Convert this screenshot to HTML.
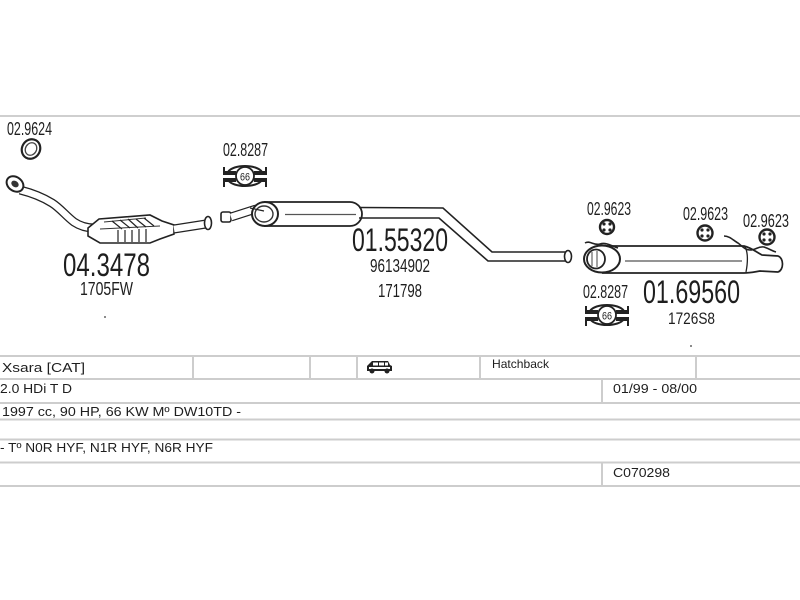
<!DOCTYPE html>
<html><head><meta charset="utf-8"><style>
html,body{margin:0;padding:0;background:#fff;}
svg{display:block;}
text{font-family:"Liberation Sans",Arial,sans-serif;fill:#1e1e1e;}
</style></head><body>
<svg width="800" height="600" viewBox="0 0 800 600" xmlns="http://www.w3.org/2000/svg">
<rect width="800" height="600" fill="#fff"/>
<!-- top line -->
<rect x="0" y="115" width="800" height="2" fill="#cfcfcf"/>

<!-- ===== Left: gasket + catalytic ===== -->
<text x="7" y="135" font-size="18" textLength="45" lengthAdjust="spacingAndGlyphs">02.9624</text>
<ellipse cx="31" cy="149" rx="9" ry="10" transform="rotate(30 31 149)" fill="none" stroke="#222" stroke-width="2.2"/>
<ellipse cx="31" cy="149" rx="5.5" ry="6.5" transform="rotate(30 31 149)" fill="none" stroke="#444" stroke-width="1.3"/>

<!-- pipe -->
<path d="M20 190 C32 193,44 198,52 203 C60 208,66 216,74 222 C80 226,86 228,94 228" fill="none" stroke="#222" stroke-width="9"/>
<path d="M20 190 C32 193,44 198,52 203 C60 208,66 216,74 222 C80 226,86 228,94 228" fill="none" stroke="#fff" stroke-width="6.5"/>
<!-- flange -->
<ellipse cx="15" cy="184" rx="9" ry="7" transform="rotate(35 15 184)" fill="#fff" stroke="#222" stroke-width="2"/>
<ellipse cx="15" cy="184" rx="4" ry="3" transform="rotate(35 15 184)" fill="#333"/>
<!-- converter -->
<polygon points="88,228 99,219 150,215 162,221 174,225 174,234 160,239 150,243 100,243 88,236" fill="#fff" stroke="#222" stroke-width="1.6"/>
<path d="M104 222 L146 218 M100 229 L160 226" stroke="#333" stroke-width="1" fill="none"/>
<path d="M112 221 L122 229 M120 220 L130 228 M128 219 L138 228 M136 219 L146 227 M144 218 L154 226" stroke="#222" stroke-width="1.2"/>
<path d="M118 230 V242 M125 230 V242 M132 230 V242 M139 229 V242 M146 229 V242" stroke="#222" stroke-width="1.2"/>
<!-- pipe to outlet -->
<path d="M174 229 L206 224" stroke="#222" stroke-width="9" fill="none"/>
<path d="M174 229 L206 224" stroke="#fff" stroke-width="6.5" fill="none"/>
<ellipse cx="208" cy="223" rx="3.5" ry="6.5" fill="#fff" stroke="#222" stroke-width="1.6"/>

<text x="63" y="276" font-size="32" textLength="87" lengthAdjust="spacingAndGlyphs">04.3478</text>
<text x="80" y="295" font-size="18" textLength="53" lengthAdjust="spacingAndGlyphs">1705FW</text>
<circle cx="105" cy="317" r="1" fill="#666"/>

<!-- ===== clamp 1 ===== -->
<text x="223" y="156" font-size="18" textLength="45" lengthAdjust="spacingAndGlyphs">02.8287</text>
<g transform="translate(245,176)">
  <path d="M-17 -4 C-12 -12,12 -12,17 -4" fill="none" stroke="#222" stroke-width="2"/>
  <path d="M-17 4 C-12 12,12 12,17 4" fill="none" stroke="#222" stroke-width="2"/>
  <rect x="-22" y="-5" width="13" height="4" fill="#222"/>
  <rect x="-22" y="2" width="13" height="4" fill="#222"/>
  <rect x="9" y="-5" width="13" height="4" fill="#222"/>
  <rect x="9" y="2" width="13" height="4" fill="#222"/>
  <path d="M-21 6 V11 M21 6 V11 M-21 -5 V-9 M21 -5 V-9" stroke="#222" stroke-width="2"/>
  <ellipse cx="0" cy="0" rx="9" ry="9" fill="#fff" stroke="#222" stroke-width="1.8"/>
  <text x="0" y="4.5" font-size="11" text-anchor="middle" textLength="10" lengthAdjust="spacingAndGlyphs">66</text>
</g>

<!-- ===== middle muffler ===== -->
<rect x="221" y="212" width="10" height="10" rx="2" fill="#fff" stroke="#222" stroke-width="1.6"/>
<path d="M231 217 L256 209" stroke="#222" stroke-width="9" fill="none"/>
<path d="M231 217 L256 209" stroke="#fff" stroke-width="6.5" fill="none"/>
<path d="M264 202 L350 202 A12 12 0 0 1 350 226 L264 226" fill="#fff" stroke="#222" stroke-width="1.8"/>
<line x1="285" y1="214.5" x2="356" y2="214.5" stroke="#555" stroke-width="1.2"/>
<ellipse cx="265" cy="214" rx="13" ry="12" fill="#fff" stroke="#222" stroke-width="2"/>
<ellipse cx="264" cy="214" rx="9" ry="8" fill="none" stroke="#333" stroke-width="1.4"/>
<path d="M250 208 L264 211" stroke="#222" stroke-width="1.2"/>
<!-- pipe -->
<path d="M359 207.5 L443 208 L492 252 L567 252" fill="none" stroke="#222" stroke-width="1.6"/>
<path d="M359 218 L439 218 L488 261 L567 261" fill="none" stroke="#222" stroke-width="1.6"/>
<ellipse cx="568" cy="256.5" rx="3.5" ry="6" fill="#fff" stroke="#222" stroke-width="1.6"/>

<text x="352" y="251" font-size="32" textLength="96" lengthAdjust="spacingAndGlyphs">01.55320</text>
<text x="370" y="272" font-size="18" textLength="60" lengthAdjust="spacingAndGlyphs">96134902</text>
<text x="378" y="297" font-size="18" textLength="44" lengthAdjust="spacingAndGlyphs">171798</text>

<!-- ===== rear ===== -->
<text x="587" y="215" font-size="18" textLength="44" lengthAdjust="spacingAndGlyphs">02.9623</text>
<text x="683" y="220" font-size="18" textLength="45" lengthAdjust="spacingAndGlyphs">02.9623</text>
<text x="743" y="227" font-size="18" textLength="46" lengthAdjust="spacingAndGlyphs">02.9623</text>
<g fill="#fff" stroke="#222">
  <circle cx="607" cy="227" r="7" stroke-width="2.4"/>
  <circle cx="705" cy="233" r="7.5" stroke-width="2.4"/>
  <circle cx="767" cy="237" r="7.5" stroke-width="2.4"/>
</g>
<g fill="#222">
  <circle cx="604" cy="224" r="1.6"/><circle cx="610" cy="224" r="1.6"/><circle cx="604" cy="230" r="1.6"/><circle cx="610" cy="230" r="1.6"/>
  <circle cx="702" cy="230" r="1.6"/><circle cx="708" cy="230" r="1.6"/><circle cx="702" cy="236" r="1.6"/><circle cx="708" cy="236" r="1.6"/>
  <circle cx="764" cy="234" r="1.6"/><circle cx="770" cy="234" r="1.6"/><circle cx="764" cy="240" r="1.6"/><circle cx="770" cy="240" r="1.6"/>
</g>

<!-- rear muffler body -->
<path d="M602 246 L744 246 C752 248,756 252,762 255 L778 256 C784 258,784 270,778 272 L760 271 C754 272,750 273,744 273 L602 273" fill="#fff" stroke="#222" stroke-width="1.7"/>
<line x1="625" y1="261" x2="742" y2="261" stroke="#555" stroke-width="1.2"/>
<ellipse cx="602" cy="259" rx="18" ry="13.5" fill="#fff" stroke="#222" stroke-width="2"/>
<ellipse cx="596" cy="259" rx="9" ry="9.5" fill="#fff" stroke="#222" stroke-width="1.8"/>
<path d="M592 252 V266 M597 251 V267" stroke="#444" stroke-width="1"/>
<path d="M585 243 C590 240,594 246,600 244 C606 242,612 246,618 248" fill="none" stroke="#222" stroke-width="1.6"/>
<path d="M724 236 C730 236,734 241,738 243 C742 246,745 250,750 250 C756 250,758 246,764 247 C770 249,772 251,776 252" fill="none" stroke="#222" stroke-width="1.6"/>
<path d="M745 247 C748 252,748 262,746 272" fill="none" stroke="#222" stroke-width="1.3"/>

<!-- clamp 2 -->
<text x="583" y="298" font-size="18" textLength="45" lengthAdjust="spacingAndGlyphs">02.8287</text>
<g transform="translate(607,315)">
  <path d="M-17 -4 C-12 -12,12 -12,17 -4" fill="none" stroke="#222" stroke-width="2"/>
  <path d="M-17 4 C-12 12,12 12,17 4" fill="none" stroke="#222" stroke-width="2"/>
  <rect x="-22" y="-5" width="13" height="4" fill="#222"/>
  <rect x="-22" y="2" width="13" height="4" fill="#222"/>
  <rect x="9" y="-5" width="13" height="4" fill="#222"/>
  <rect x="9" y="2" width="13" height="4" fill="#222"/>
  <path d="M-21 6 V11 M21 6 V11 M-21 -5 V-9 M21 -5 V-9" stroke="#222" stroke-width="2"/>
  <ellipse cx="0" cy="0" rx="9" ry="9" fill="#fff" stroke="#222" stroke-width="1.8"/>
  <text x="0" y="4.5" font-size="11" text-anchor="middle" textLength="10" lengthAdjust="spacingAndGlyphs">66</text>
</g>

<text x="643" y="303" font-size="32" textLength="97" lengthAdjust="spacingAndGlyphs">01.69560</text>
<text x="668" y="324" font-size="17" textLength="47" lengthAdjust="spacingAndGlyphs">1726S8</text>
<circle cx="691" cy="346" r="1" fill="#666"/>

<!-- ===== table ===== -->
<g fill="#cdcdcd">
  <rect x="0" y="355" width="800" height="2"/>
  <rect x="0" y="378" width="800" height="2"/>
  <rect x="0" y="402" width="800" height="2"/>
  <rect x="0" y="418.5" width="800" height="2"/>
  <rect x="0" y="438.5" width="800" height="2"/>
  <rect x="0" y="461.5" width="800" height="2"/>
  <rect x="0" y="485" width="800" height="2"/>
  <rect x="192" y="356" width="2" height="23"/>
  <rect x="309" y="356" width="2" height="23"/>
  <rect x="356" y="356" width="2" height="23"/>
  <rect x="479" y="356" width="2" height="23"/>
  <rect x="695" y="356" width="2" height="23"/>
  <rect x="601" y="379" width="2" height="24"/>
  <rect x="601" y="462" width="2" height="24"/>
</g>
<!-- car icon -->
<g transform="translate(366,359)">
  <path d="M2 6 L6 2 L22 2 L24 6 L26 7 L26 12 L1 12 L1 7 Z" fill="#222"/>
  <rect x="7" y="3.5" width="5" height="3" fill="#fff"/>
  <rect x="13" y="3.5" width="5" height="3" fill="#fff"/>
  <rect x="19" y="3.5" width="3" height="3" fill="#fff"/>
  <rect x="3" y="8" width="21" height="2" fill="#fff"/>
  <circle cx="6" cy="12" r="2.5" fill="#222"/>
  <circle cx="21" cy="12" r="2.5" fill="#222"/>
</g>

<text x="2" y="372" font-size="13" textLength="83" lengthAdjust="spacingAndGlyphs">Xsara  [CAT]</text>
<text x="0" y="393" font-size="13" textLength="72" lengthAdjust="spacingAndGlyphs">2.0 HDi T D</text>
<text x="2" y="416" font-size="13" textLength="239" lengthAdjust="spacingAndGlyphs">1997 cc, 90 HP, 66 KW  Mº DW10TD -</text>
<text x="0" y="452" font-size="13" textLength="213" lengthAdjust="spacingAndGlyphs">- Tº N0R HYF, N1R HYF, N6R HYF</text>
<text x="492" y="368" font-size="12" textLength="57" lengthAdjust="spacingAndGlyphs">Hatchback</text>
<text x="613" y="393" font-size="13" textLength="84" lengthAdjust="spacingAndGlyphs">01/99 - 08/00</text>
<text x="613" y="477" font-size="13" textLength="57" lengthAdjust="spacingAndGlyphs">C070298</text>
</svg>
</body></html>
